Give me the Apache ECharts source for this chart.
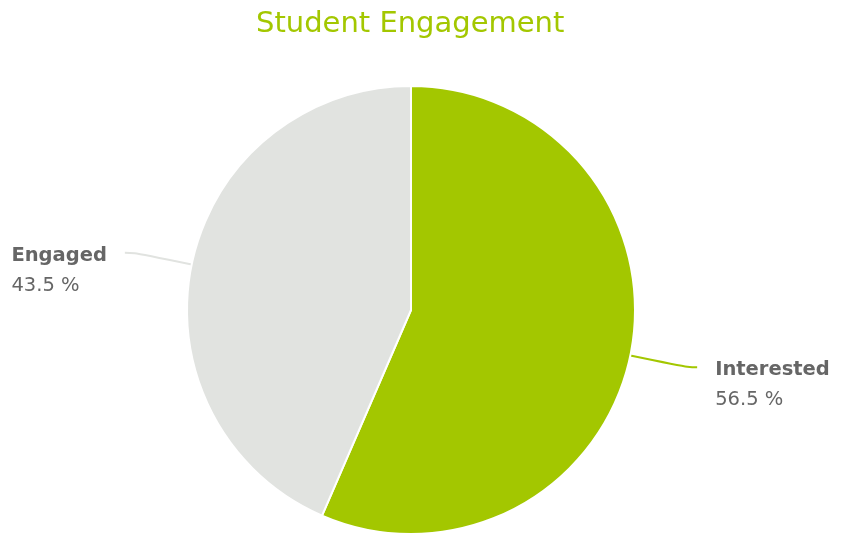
<!DOCTYPE html>
<html>
	<head>
		<meta charset="utf-8" />
		<title></title>
		<style type="text/css">
			html,body{margin:0;padding:0;background:#fff;}
			#main{width:852px;height:546px;}
		</style>
		<script src="https://cdn.jsdelivr.net/npm/echarts@6/dist/echarts.min.js" type="text/javascript" charset="utf-8"></script>
	</head>
	<body>
		<div id="main"></div>
		<script type="text/javascript">
			var names = ['Interested', 'Engaged'];
			var values = [56.5, 43.5];
			var colors = ['#a3c700', '#e1e3e0'];

			var myChart = echarts.init(document.getElementById('main'));
			var option = {
				title: {
					text: 'Student Engagement',
					left: 251,
					top: 5,
					textStyle: {
						color: '#a3c700',
						fontFamily: 'DejaVu Sans',
						fontSize: 29,
						fontWeight: 'normal'
					}
				},
				color: colors,
				series: [{
					type: 'pie',
					radius: [0, 224],
					center: [411, 310],
					startAngle: 90,
					clockwise: true,
					animation: false,
					itemStyle: {
						borderColor: '#fff',
						borderWidth: 2
					},
					label: {
						formatter: '{n|{b}}\n{p|{d} %}',
						padding: [36, 0, 0, 0],
						distanceToLabelLine: 18,
						rich: {
							n: {
								fontFamily: 'DejaVu Sans',
								fontSize: 19.5,
								fontWeight: 'bold',
								color: '#666',
								lineHeight: 30,
								align: 'left'
							},
							p: {
								fontFamily: 'DejaVu Sans',
								fontSize: 19.5,
								color: '#666',
								lineHeight: 30,
								align: 'left'
							}
						}
					},
					labelLine: {
						length: 58,
						length2: 10,
						smooth: 0.5,
						lineStyle: { width: 2 }
					},
					data: names.map(function (n, i) {
						return { name: n, value: values[i] };
					})
				}]
			};
			myChart.setOption(option);
		</script>
	</body>
</html>
